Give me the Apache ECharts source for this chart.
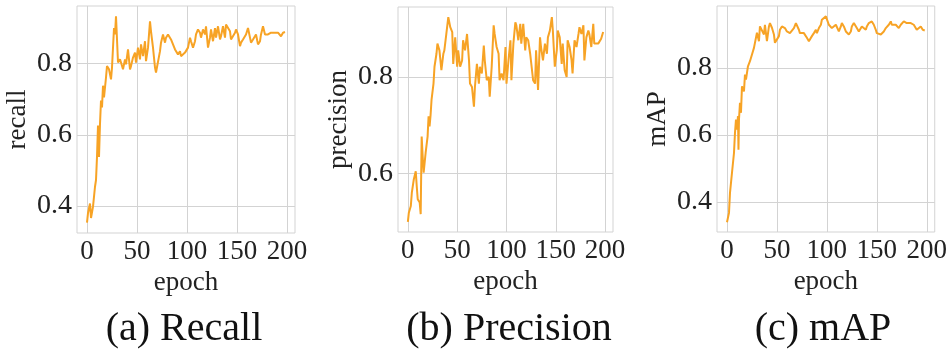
<!DOCTYPE html>
<html>
<head>
<meta charset="utf-8">
<script src="https://cdn.jsdelivr.net/npm/echarts@6.0.0/dist/echarts.min.js"></script>
<style>
    html, body { margin: 0; padding: 0; background: #fff; }
    #chart { width: 950px; height: 356px; }
</style>
</head>
<body>
<div id="chart"></div>
<script>
    // recall curve
    var recallEpochs = [0,1,3,4,6,8,9,10,11,12,13,14,15,16,17,19,20,22,24,25,27,28,29,31,33,34,36,38,39,41,43,44,46,48,49,51,53,54,56,58,59,61,63,64,66,68,69,71,73,74,76,78,79,81,83,84,86,88,89,91,93,94,96,98,99,101,103,104,106,108,109,111,113,114,116,118,119,121,123,124,126,128,129,131,133,134,136,138,139,141,143,144,146,148,149,151,153,154,156,158,159,161,163,164,166,168,169,171,173,174,176,178,179,181,183,184,186,188,189,191,193,194,196,198];
    var recallValues = [0.353,0.380,0.407,0.366,0.398,0.454,0.473,0.538,0.626,0.538,0.631,0.696,0.677,0.738,0.705,0.761,0.793,0.784,0.756,0.789,0.900,0.882,0.933,0.803,0.812,0.803,0.784,0.812,0.798,0.840,0.784,0.793,0.817,0.831,0.803,0.845,0.812,0.854,0.821,0.863,0.807,0.845,0.919,0.891,0.845,0.789,0.775,0.780,0.835,0.859,0.882,0.859,0.873,0.882,0.877,0.868,0.854,0.840,0.835,0.826,0.835,0.821,0.817,0.831,0.826,0.845,0.873,0.863,0.845,0.863,0.882,0.896,0.887,0.873,0.896,0.882,0.905,0.845,0.873,0.896,0.863,0.900,0.873,0.905,0.868,0.877,0.905,0.873,0.910,0.914,0.891,0.868,0.873,0.887,0.896,0.882,0.849,0.859,0.868,0.873,0.882,0.900,0.873,0.859,0.868,0.863,0.882,0.854,0.863,0.882,0.905,0.882,0.877,0.882,0.887,0.887,0.889,0.887,0.882,0.887,0.882,0.877,0.887,0.889];

    // precision curve, panel (b)
    var precisionEpochs = [0,1,3,4,6,8,9,10,12,13,14,15,16,18,20,21,22,23,24,26,27,29,30,32,34,36,37,39,41,43,45,46,48,50,51,53,55,56,58,60,62,63,65,67,68,70,72,73,75,77,78,80,82,83,85,87,88,90,92,93,95,97,99,100,102,104,105,107,109,110,112,114,115,117,119,120,122,124,127,129,130,132,134,135,137,139,141,142,144,146,147,149,151,152,154,156,157,159,161,162,164,166,167,169,171,173,174,176,178,179,181,183,184,186,188,189,191,193,194,196,198];
    var precisionValues = [0.499,0.518,0.532,0.559,0.587,0.604,0.573,0.546,0.539,0.515,0.676,0.635,0.601,0.642,0.676,0.718,0.697,0.720,0.752,0.786,0.821,0.848,0.869,0.855,0.814,0.848,0.855,0.889,0.924,0.903,0.893,0.827,0.882,0.821,0.855,0.821,0.834,0.876,0.855,0.889,0.834,0.786,0.779,0.738,0.779,0.827,0.786,0.821,0.807,0.865,0.834,0.793,0.800,0.759,0.821,0.907,0.889,0.862,0.848,0.793,0.807,0.793,0.862,0.786,0.834,0.876,0.793,0.869,0.913,0.907,0.876,0.910,0.869,0.910,0.855,0.882,0.876,0.848,0.793,0.786,0.855,0.773,0.882,0.862,0.834,0.869,0.848,0.882,0.896,0.924,0.896,0.821,0.855,0.896,0.882,0.827,0.869,0.814,0.800,0.876,0.862,0.834,0.807,0.876,0.862,0.889,0.903,0.889,0.907,0.834,0.882,0.896,0.889,0.862,0.910,0.869,0.869,0.869,0.869,0.879,0.893];

    // mAP curve, panel (c)
    var mapEpochs = [0,2,3,5,7,8,9,10,11,11.5,12,13,14,15,17,18,19,21,23,26,27,30,32,33,35,37,38,40,42,43,45,47,48,50,52,53,55,57,58,60,62,63,65,67,69,70,72,73,75,77,79,80,82,84,85,87,89,90,92,94,95,97,99,100,102,104,105,107,109,110,112,114,115,117,119,120,122,124,125,127,129,130,132,134,135,137,139,140,142,144,145,147,149,150,152,154,155,157,159,160,162,164,165,167,169,170,172,174,175,177,179,180,182,184,185,187,189,190,192,194,196,198];
    var mapValues = [0.339,0.367,0.427,0.487,0.546,0.606,0.646,0.616,0.656,0.556,0.646,0.696,0.666,0.745,0.730,0.780,0.765,0.805,0.820,0.850,0.860,0.905,0.880,0.924,0.929,0.900,0.929,0.880,0.924,0.934,0.920,0.900,0.875,0.875,0.895,0.914,0.924,0.929,0.919,0.909,0.904,0.904,0.909,0.919,0.934,0.929,0.914,0.904,0.900,0.904,0.900,0.890,0.880,0.880,0.895,0.904,0.914,0.904,0.919,0.929,0.944,0.949,0.954,0.949,0.929,0.924,0.919,0.924,0.929,0.924,0.909,0.924,0.934,0.924,0.909,0.904,0.900,0.909,0.924,0.934,0.929,0.919,0.909,0.914,0.924,0.924,0.914,0.924,0.934,0.934,0.939,0.929,0.914,0.904,0.904,0.900,0.904,0.909,0.919,0.924,0.929,0.939,0.929,0.924,0.929,0.924,0.919,0.929,0.934,0.939,0.939,0.934,0.934,0.934,0.934,0.929,0.924,0.914,0.919,0.924,0.914,0.912];

    var xTicks = [0, 50, 100, 150, 200];
    var recallTicks = [0.4, 0.6, 0.8];
    var precisionTicks = [0.6, 0.8];
    var mapTicks = [0.4, 0.6, 0.8];
    var yNames = ['recall', 'precision', 'mAP'];
    var captions = ['(a) Recall', '(b) Precision', '(c) mAP'];

    var font = "'Liberation Serif', 'Times New Roman', serif";
    var gridColor = '#d3d3d3';
    var lineColor = '#f7a325';

    function pairs(xs, ys) {
        return xs.map(function (x, i) { return [x, ys[i]]; });
    }

    var grids = [
        { left: 77, top: 6, width: 218, height: 227 },
        { left: 398, top: 7, width: 215, height: 225 },
        { left: 717, top: 6, width: 218, height: 226 }
    ];
    var yRanges = [[0.324, 0.962], [0.478, 0.945], [0.31, 0.985]];
    var yTicks = [recallTicks, precisionTicks, mapTicks];
    var data = [
        pairs(recallEpochs, recallValues),
        pairs(precisionEpochs, precisionValues),
        pairs(mapEpochs, mapValues)
    ];

    var chart = echarts.init(document.getElementById('chart'));
    chart.setOption({
        animation: false,
        backgroundColor: '#fff',
        grid: grids.map(function (g) {
            return Object.assign({ show: true, borderColor: gridColor, borderWidth: 1, backgroundColor: '#fff' }, g);
        }),
        xAxis: [0, 1, 2].map(function (i) {
            return {
                gridIndex: i,
                type: 'value',
                min: -10,
                max: 208,
                name: 'epoch',
                nameLocation: 'middle',
                nameGap: 36,
                nameTextStyle: { fontFamily: font, fontSize: 27, color: '#222' },
                axisLine: { show: false },
                axisTick: { show: false, customValues: xTicks },
                axisLabel: { customValues: xTicks, fontFamily: font, fontSize: 27, color: '#222', margin: 5 },
                splitLine: { show: true, lineStyle: { color: gridColor, width: 1 } }
            };
        }),
        yAxis: [0, 1, 2].map(function (i) {
            return {
                gridIndex: i,
                type: 'value',
                min: yRanges[i][0],
                max: yRanges[i][1],
                name: yNames[i],
                nameLocation: 'middle',
                nameGap: 46,
                nameTextStyle: { fontFamily: font, fontSize: 27, color: '#222' },
                axisLine: { show: false },
                axisTick: { show: false, customValues: yTicks[i] },
                axisLabel: {
                    customValues: yTicks[i],
                    fontFamily: font, fontSize: 28, color: '#222', margin: 5,
                    formatter: function (v) { return v.toFixed(1); }
                },
                splitLine: { show: true, lineStyle: { color: gridColor, width: 1 } }
            };
        }),
        series: [0, 1, 2].map(function (i) {
            return {
                type: 'line',
                xAxisIndex: i,
                yAxisIndex: i,
                data: data[i],
                showSymbol: false,
                lineStyle: { color: lineColor, width: 2 },
                itemStyle: { color: lineColor }
            };
        }),
        graphic: captions.map(function (c, i) {
            return {
                type: 'text',
                x: [184, 509, 823][i],
                y: 329,
                style: {
                    text: c,
                    fontFamily: font,
                    fontSize: 40,
                    fill: '#111',
                    align: 'center',
                    verticalAlign: 'middle'
                }
            };
        })
    });
</script>
</body>
</html>
